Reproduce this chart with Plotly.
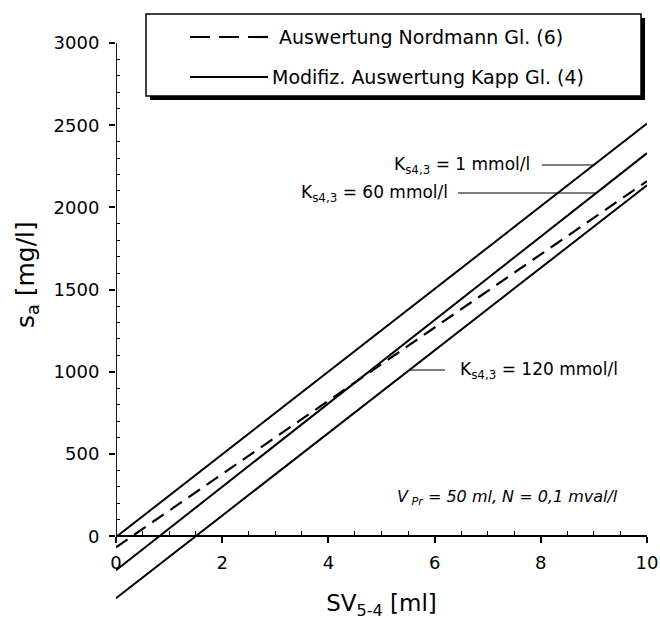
import plotly.graph_objects as go

# ---------------- data ----------------
sv_ml = [0, 10]                       # SV5-4 [ml] (line end points)
nordmann_gl6 = [-67, 2160]            # Auswertung Nordmann Gl. (6)
kapp_k1 = [-5, 2510]                  # Kapp Gl. (4), Ks4,3 = 1 mmol/l
kapp_k60 = [-207, 2330]               # Kapp Gl. (4), Ks4,3 = 60 mmol/l
kapp_k120 = [-377, 2135]              # Kapp Gl. (4), Ks4,3 = 120 mmol/l

x_ticks = [0, 2, 4, 6, 8, 10]
y_ticks = [0, 500, 1000, 1500, 2000, 2500, 3000]
x_minor = [v / 2 for v in range(0, 21) if v % 4 != 0]
y_minor = [v for v in range(100, 3000, 100) if v % 500 != 0]

legend_labels = ["Auswertung Nordmann Gl. (6)", "Modifiz. Auswertung Kapp Gl. (4)"]
k_labels = ["K<sub>s4,3</sub> = 1 mmol/l", "K<sub>s4,3</sub> = 60 mmol/l",
            "K<sub>s4,3</sub> = 120 mmol/l"]
note = "<i>V<sub> Pr</sub> = 50 ml, N = 0,1 mval/l</i>"

# ---------------- geometry ----------------
W, H = 660, 628
ML, MR, MT, MB = 116, 13, 43, 26
PW, PH = W - ML - MR, H - MT - MB
XR = [0, 10]
YR = [-400, 3000]
FONT = "DejaVu Sans"


def px2x(p):
    return XR[0] + (p - ML) / PW * (XR[1] - XR[0])


def py2y(p):
    return YR[0] + (H - MB - p) / PH * (YR[1] - YR[0])


def ppx(p):
    return (p - ML) / PW


def ppy(p):
    return (H - MB - p) / PH


def line_x_at(series, yv):
    slope = (series[1] - series[0]) / (sv_ml[1] - sv_ml[0])
    return sv_ml[0] + (yv - series[0]) / slope


fig = go.Figure()
for ys in (kapp_k1, kapp_k60, kapp_k120):
    fig.add_trace(go.Scatter(x=sv_ml, y=ys, mode="lines",
                             line=dict(color="black", width=2),
                             showlegend=False, hoverinfo="skip"))
fig.add_trace(go.Scatter(x=sv_ml, y=nordmann_gl6, mode="lines",
                         line=dict(color="black", width=2.2, dash="14px,8px"),
                         showlegend=False, hoverinfo="skip"))

zero_pos = (0 - YR[0]) / (YR[1] - YR[0])

common = dict(showgrid=False, zeroline=False, tickcolor="black",
              tickfont=dict(family=FONT, size=18, color="black"))

fig.update_layout(
    width=W, height=H,
    margin=dict(l=ML, r=MR, t=MT, b=MB, autoexpand=False),
    plot_bgcolor="white", paper_bgcolor="white",
    showlegend=False,
    xaxis=dict(range=XR, anchor="free", position=zero_pos,
               tickvals=x_ticks, ticks="outside", ticklen=6, tickwidth=1.5,
               showline=True, linecolor="black", linewidth=1.8,
               ticklabelstandoff=4,
               minor=dict(tickvals=x_minor, ticks="inside", ticklen=4,
                          tickwidth=1.2, tickcolor="black"),
               title=dict(text="SV<sub>5-4</sub> [ml]", standoff=22,
                          font=dict(family=FONT, size=23, color="black")),
               **common),
    yaxis=dict(range=YR, tickvals=y_ticks, ticks="outside", ticklen=6,
               tickwidth=1.5, showline=False, ticklabelstandoff=6,
               minor=dict(tickvals=y_minor, ticks="inside", ticklen=4,
                          tickwidth=1.2, tickcolor="black"),
               **common),
    xaxis2=dict(range=XR, overlaying="x", anchor="free", position=zero_pos,
                tickvals=x_ticks, ticks="inside", ticklen=6, tickwidth=1.5,
                showticklabels=False, showline=False, showgrid=False,
                zeroline=False, tickcolor="black"),
    yaxis2=dict(range=YR, overlaying="y", anchor="x", side="left",
                tickvals=y_ticks, ticks="inside", ticklen=6, tickwidth=1.5,
                showticklabels=False, showline=False, showgrid=False,
                zeroline=False, tickcolor="black"),
)

shapes = []
# y axis line from 0 to 3000
shapes.append(dict(type="line", xref="x", yref="y", x0=0, x1=0, y0=0, y1=3000,
                   line=dict(color="black", width=1.8)))

# legend box with drop shadow
shapes.append(dict(type="rect", xref="paper", yref="paper",
                   x0=ppx(150), x1=ppx(645), y0=ppy(100), y1=ppy(18),
                   fillcolor="black", line=dict(width=0), layer="above"))
shapes.append(dict(type="rect", xref="paper", yref="paper",
                   x0=ppx(146), x1=ppx(641), y0=ppy(96), y1=ppy(14),
                   fillcolor="white", line=dict(color="black", width=1.5),
                   layer="above"))
shapes.append(dict(type="line", xref="paper", yref="paper",
                   x0=ppx(190), x1=ppx(268), y0=ppy(37), y1=ppy(37),
                   line=dict(color="black", width=2.2, dash="20px,9px"),
                   layer="above"))
shapes.append(dict(type="line", xref="paper", yref="paper",
                   x0=ppx(190), x1=ppx(268), y0=ppy(77), y1=ppy(77),
                   line=dict(color="black", width=1.8), layer="above"))

annotations = []
annotations.append(dict(x=ppx(277), y=ppy(37), xref="paper", yref="paper",
                        text=legend_labels[0], showarrow=False, xanchor="left",
                        yanchor="middle",
                        font=dict(family=FONT, size=19, color="black")))
annotations.append(dict(x=ppx(270), y=ppy(77), xref="paper", yref="paper",
                        text=legend_labels[1], showarrow=False, xanchor="left",
                        yanchor="middle",
                        font=dict(family=FONT, size=19, color="black")))

# K labels with leader lines
k1_y = py2y(165)
annotations.append(dict(x=px2x(532), y=k1_y, text=k_labels[0], showarrow=False,
                        xanchor="right", yanchor="middle",
                        font=dict(family=FONT, size=17, color="black")))
shapes.append(dict(type="line", xref="x", yref="y", x0=px2x(542),
                   x1=line_x_at(kapp_k1, k1_y), y0=k1_y, y1=k1_y,
                   line=dict(color="black", width=1.2)))

k60_y = py2y(193)
annotations.append(dict(x=px2x(450), y=k60_y, text=k_labels[1], showarrow=False,
                        xanchor="right", yanchor="middle",
                        font=dict(family=FONT, size=17, color="black")))
shapes.append(dict(type="line", xref="x", yref="y", x0=px2x(458),
                   x1=line_x_at(kapp_k60, k60_y), y0=k60_y, y1=k60_y,
                   line=dict(color="black", width=1.2)))

k120_y = py2y(370)
annotations.append(dict(x=px2x(458), y=k120_y, text=k_labels[2], showarrow=False,
                        xanchor="left", yanchor="middle",
                        font=dict(family=FONT, size=17, color="black")))
shapes.append(dict(type="line", xref="x", yref="y",
                   x0=line_x_at(kapp_k120, k120_y), x1=px2x(445),
                   y0=k120_y, y1=k120_y,
                   line=dict(color="black", width=1.2)))

annotations.append(dict(x=px2x(620), y=py2y(497), text=note, showarrow=False,
                        xanchor="right", yanchor="middle",
                        font=dict(family=FONT, size=16, color="black")))

# y axis title
annotations.append(dict(x=ppx(27), y=py2y(275), xref="paper", yref="y",
                        text="s<sub>a</sub> [mg/l]", textangle=-90,
                        showarrow=False, xanchor="center", yanchor="middle",
                        font=dict(family=FONT, size=25, color="black")))

fig.update_layout(shapes=shapes, annotations=annotations)
fig.write_html("out.html",
               config={"displayModeBar": False},
               post_script="document.body.style.margin='0';"
                           "document.body.style.overflow='hidden';")
